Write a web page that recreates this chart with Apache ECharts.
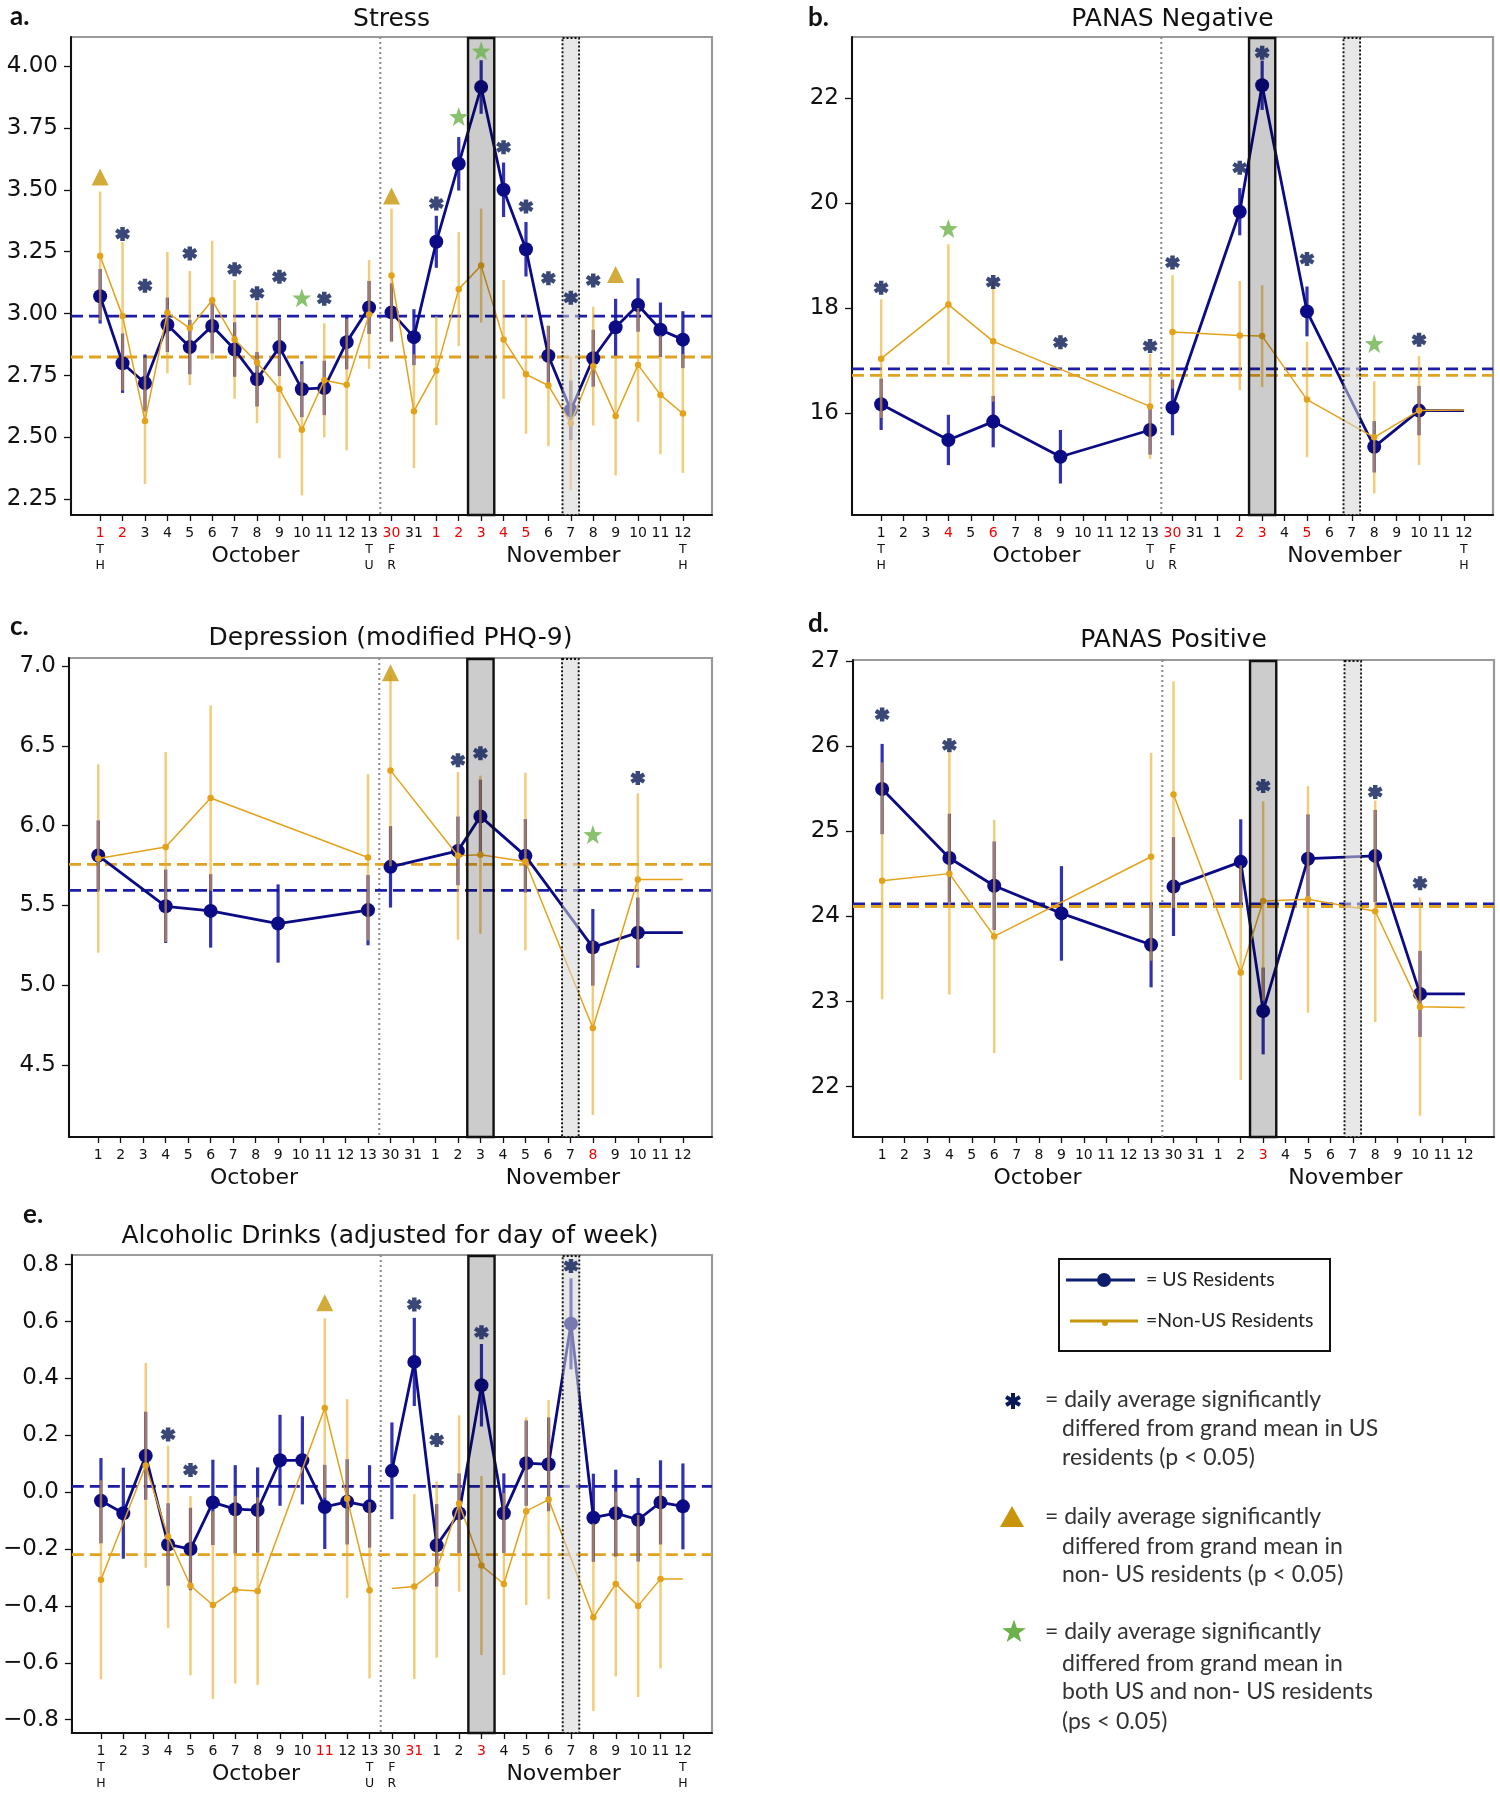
<!DOCTYPE html>
<html><head><meta charset="utf-8">
<script src="https://cdn.jsdelivr.net/npm/echarts@6/dist/echarts.min.js"></script>
<style>html,body{margin:0;padding:0;background:#fff}#c{width:1500px;height:1800px}</style>
</head><body><div id="c"></div>
<script>
const N = null;
// ---- categories ----
const dayLabels = ['1','2','3','4','5','6','7','8','9','10','11','12','13','30','31','1','2','3','4','5','6','7','8','9','10','11','12'];
const weekdayLabels = {0:['T','H'], 12:['T','U'], 13:['F','R'], 26:['T','H']};
const monthLabels = ['October','November'];

// ---- a. Stress ----
const stressUS    = [3.07,2.80,2.72,2.955,2.865,2.95,2.855,2.735,2.865,2.695,2.70,2.885,3.025,3.005,2.905,3.29,3.605,3.915,3.50,3.26,2.83,2.61,2.82,2.945,3.035,2.935,2.895];
const stressUSErr = [0.11,0.12,0.115,0.11,0.11,0.11,0.11,0.11,0.117,0.113,0.11,0.11,0.107,0.117,0.113,0.105,0.108,0.108,0.11,0.11,0.12,0.12,0.115,0.115,0.108,0.11,0.115];
const stressNon    = [3.233,2.99,2.567,3.004,2.942,3.054,2.896,2.803,2.696,2.531,2.731,2.713,2.997,3.154,2.606,2.77,3.099,3.194,2.896,2.755,2.71,2.557,2.788,2.587,2.793,2.672,2.597];
const stressNonErr = [0.26,0.30,0.255,0.245,0.23,0.24,0.24,0.245,0.28,0.265,0.23,0.265,0.22,0.27,0.23,0.22,0.23,0.23,0.24,0.24,0.245,0.27,0.24,0.24,0.23,0.24,0.24];
const stressMeans = [2.99, 2.825];
const stressAst  = [[1,3.322],[2,3.113],[4,3.243],[6,3.179],[7,3.082],[8,3.149],[10,3.06],[15,3.445],[18,3.672],[19,3.433],[20,3.143],[21,3.064],[22,3.134]];
const stressTri  = [[0,3.552],[13,3.475],[23,3.158]];
const stressStar = [[9,3.064],[16,3.796],[17,4.061]];
const stressRed  = [0,1,13,15,16,17,18,19];
const stressTicks = [2.25,2.50,2.75,3.00,3.25,3.50,3.75,4.00];

// ---- b. PANAS Negative ----
const negUS    = [16.17,N,N,15.49,N,15.84,N,N,15.17,N,N,N,15.68,16.11,N,N,19.84,22.25,N,17.94,N,N,15.36,N,16.05,N,16.05];
const negUSErr = [0.49,N,N,0.48,N,0.49,N,N,0.51,N,N,N,0.47,0.53,N,N,0.45,0.47,N,0.475,N,N,0.49,N,0.47,N,N];
const negNon    = [17.04,N,N,18.07,N,17.37,N,N,N,N,N,N,16.13,17.55,N,N,17.48,17.47,N,16.26,N,N,15.54,N,16.05,N,16.06];
const negNonErr = [1.13,N,N,1.15,N,1.15,N,N,N,N,N,N,1.0,1.08,N,N,1.04,0.97,N,1.1,N,N,1.07,N,1.04,N,N];
const negMeans = [16.845, 16.72];
const negAst  = [[0,18.39],[5,18.5],[8,17.35],[12,17.28],[13,18.87],[16,20.68],[17,22.87],[19,18.94],[24,17.4]];
const negTri  = [];
const negStar = [[3,19.52],[22,17.33]];
const negRed  = [3,5,13,16,17,19];
const negTicks = [16,18,20,22];

// ---- c. Depression ----
const depUS    = [5.813,N,N,5.495,N,5.466,N,N,5.387,N,N,N,5.471,5.742,N,N,5.842,6.058,N,5.811,N,N,5.238,N,5.33,N,5.33];
const depUSErr = [0.22,N,N,0.23,N,0.23,N,N,0.245,N,N,N,0.22,0.255,N,N,0.215,0.23,N,0.23,N,N,0.24,N,0.22,N,N];
const depNon    = [5.794,N,N,5.866,N,6.173,N,N,N,N,N,N,5.801,6.346,N,N,5.811,5.818,N,5.775,N,N,4.733,N,5.663,N,5.663];
const depNonErr = [0.59,N,N,0.595,N,0.58,N,N,N,N,N,N,0.52,0.6,N,N,0.525,0.495,N,0.557,N,N,0.545,N,0.54,N,N];
const depMeans = [5.595, 5.758];
const depAst  = [[16,6.41],[17,6.453],[24,6.298]];
const depTri  = [[13,6.957]];
const depStar = [[22,5.945]];
const depRed  = [22];
const depTicks = [4.5,5.0,5.5,6.0,6.5,7.0];

// ---- d. PANAS Positive ----
const posUS    = [25.495,N,N,24.686,N,24.36,N,N,24.035,N,N,N,23.667,24.35,N,N,24.64,22.89,N,24.677,N,N,24.71,N,23.09,N,23.09];
const posUSErr = [0.53,N,N,0.52,N,0.52,N,N,0.555,N,N,N,0.5,0.58,N,N,0.5,0.51,N,0.52,N,N,0.54,N,0.505,N,N];
const posNon    = [24.417,N,N,24.502,N,23.765,N,N,N,N,N,N,24.70,25.43,N,N,23.34,24.18,N,24.2,N,N,24.06,N,22.94,N,22.93];
const posNonErr = [1.39,N,N,1.42,N,1.37,N,N,N,N,N,N,1.22,1.33,N,N,1.26,1.17,N,1.33,N,N,1.3,N,1.28,N,N];
const posMeans = [24.147, 24.116];
const posAst  = [[0,26.37],[3,26.01],[17,25.53],[22,25.46],[24,24.39]];
const posTri  = [];
const posStar = [];
const posRed  = [17];
const posTicks = [22,23,24,25,26,27];

// ---- e. Alcoholic drinks ----
const alcUS    = [-0.03,-0.074,0.128,-0.184,-0.2,-0.036,-0.06,-0.063,0.112,0.112,-0.052,-0.034,-0.05,0.075,0.458,-0.187,-0.074,0.376,-0.074,0.102,0.098,0.592,-0.09,-0.074,-0.097,-0.036,-0.05];
const alcUSErr = [0.15,0.16,0.155,0.145,0.145,0.15,0.155,0.15,0.16,0.155,0.148,0.15,0.145,0.17,0.155,0.145,0.14,0.145,0.14,0.15,0.165,0.16,0.155,0.153,0.147,0.148,0.151];
const alcNon    = [-0.308,N,0.094,-0.157,-0.329,-0.397,-0.343,-0.348,N,N,0.296,-0.023,-0.345,-0.339,-0.332,-0.272,-0.04,-0.258,-0.323,-0.067,-0.026,N,-0.44,-0.323,-0.4,-0.305,-0.305];
const alcNonErr = [0.35,N,0.36,0.32,0.315,0.33,0.33,0.33,N,N,0.315,0.35,0.31,N,0.325,0.31,0.31,0.315,0.32,0.33,0.35,N,0.33,0.325,0.32,0.315,N];
const alcMeans = [0.02, -0.22];
const alcAst  = [[3,0.203],[4,0.078],[14,0.66],[15,0.183],[17,0.562],[21,0.795]];
const alcTri  = [[10,0.666]];
const alcStar = [];
const alcRed  = [10,14,17];
const alcTicks = [-0.8,-0.6,-0.4,-0.2,0,0.2,0.4,0.6,0.8];

// ---- styles ----
const C_US = '#0b0b85', C_US_ERR = 'rgba(22,22,165,0.88)', C_US_MEAN = '#1d1da6';
const C_NON = '#e3a21a', C_NON_ERR = 'rgba(234,172,40,0.62)', C_NON_MEAN = '#e1a222';
const C_AST = '#071a55', C_TRI = '#c8960a', C_STAR = '#6db14a';
const AST_PATH = 'path://M35 0L65 0L65 100L35 100Z M15 89.3L0 63.3L85 10.7L100 36.7Z M100 63.3L85 89.3L0 36.7L15 10.7Z';
const STAR_PATH = 'path://M50 0L61.76 33.82L97.55 34.55L69.02 56.18L79.39 90.45L50 70L20.61 90.45L30.98 56.18L2.45 34.55L38.24 33.82Z';
const XMIN = -1.3, XMAX = 27.3;
const stormIdx = 17, followIdx = 21;  // Nov 3 and Nov 7 highlighted days
const breakX = dayLabels.indexOf('30') - 0.5;
const monthPos = [6.93, 20.67];

const panels = [
  {letter:'a.', letterXY:[10,17], title:'Stress', titleY:19, grid:{left:71,top:37,width:641,height:478}, yMin:2.187, yMax:4.117, ticks:stressTicks, dec:2,
   us:stressUS, usErr:stressUSErr, non:stressNon, nonErr:stressNonErr, means:stressMeans, ast:stressAst, tri:stressTri, star:stressStar, red:stressRed, wk:true},
  {letter:'b.', letterXY:[808,18], title:'PANAS Negative', titleY:19, grid:{left:852,top:37,width:641,height:478}, yMin:14.06, yMax:23.17, ticks:negTicks, dec:0,
   us:negUS, usErr:negUSErr, non:negNon, nonErr:negNonErr, means:negMeans, ast:negAst, tri:negTri, star:negStar, red:negRed, wk:true},
  {letter:'c.', letterXY:[10,627], title:'Depression (modified PHQ-9)', titleY:638, grid:{left:69,top:658,width:643,height:479}, yMin:4.05, yMax:7.05, ticks:depTicks, dec:1,
   us:depUS, usErr:depUSErr, non:depNon, nonErr:depNonErr, means:depMeans, ast:depAst, tri:depTri, star:depStar, red:depRed, wk:false},
  {letter:'d.', letterXY:[808,624], title:'PANAS Positive', titleY:640, grid:{left:853,top:660,width:641,height:477}, yMin:21.41, yMax:27.01, ticks:posTicks, dec:0,
   us:posUS, usErr:posUSErr, non:posNon, nonErr:posNonErr, means:posMeans, ast:posAst, tri:posTri, star:posStar, red:posRed, wk:false},
  {letter:'e.', letterXY:[23,1215], title:'Alcoholic Drinks (adjusted for day of week)', titleY:1236, grid:{left:68,top:1255,width:644,height:478}, yMin:-0.847, yMax:0.834, ticks:alcTicks, dec:1,
   us:alcUS, usErr:alcUSErr, non:alcNon, nonErr:alcNonErr, means:alcMeans, ast:alcAst, tri:alcTri, star:alcStar, red:alcRed, wk:true}
];

const idxs = dayLabels.map((_, i) => i);
const segments = [[0, 12], [13, 26]];

function fmtY(v, dec) {
  const s = Math.abs(v).toFixed(dec);
  return (v < -1e-9 ? '\u2212' : '') + s;
}

const grids = [], xAxes = [], yAxes = [], series = [];
panels.forEach((p, i) => {
  grids.push(Object.assign({show:true, borderColor:'#9a9a9a', borderWidth:2.2, backgroundColor:'#fff'}, p.grid));
  xAxes.push({
    type:'value', gridIndex:i, min:XMIN, max:XMAX,
    axisLine:{show:true, onZero:false, lineStyle:{color:'#111', width:2}},
    axisTick:{show:true, customValues:idxs, length:6, lineStyle:{color:'#111', width:1.3}},
    splitLine:{show:false},
    axisLabel:{
      customValues:idxs, margin:10,
      formatter:(v) => {
        const k = Math.round(v);
        let s = '{' + (p.red.includes(k) ? 'r' : 'n') + '|' + dayLabels[k] + '}';
        if (p.wk && weekdayLabels[k]) s += '\n{s|' + weekdayLabels[k][0] + '}\n{s|' + weekdayLabels[k][1] + '}';
        return s;
      },
      rich:{
        n:{fontSize:14, fontFamily:'DejaVu Sans', color:'#111', lineHeight:17},
        r:{fontSize:14, fontFamily:'DejaVu Sans', color:'#ee0000', lineHeight:17},
        s:{fontSize:12.5, fontFamily:'DejaVu Sans', color:'#111', lineHeight:15.5}
      }
    }
  });
  yAxes.push({
    type:'value', gridIndex:i, min:p.yMin, max:p.yMax,
    axisLine:{show:true, onZero:false, lineStyle:{color:'#111', width:2}},
    axisTick:{show:true, customValues:p.ticks, length:7, lineStyle:{color:'#111', width:1.3}},
    splitLine:{show:false},
    axisLabel:{customValues:p.ticks, margin:13, fontSize:23, fontFamily:'DejaVu Sans', color:'#111', formatter:(v) => fmtY(v, p.dec)}
  });

  // vertical dotted separator
  series.push({
    type:'custom', xAxisIndex:i, yAxisIndex:i, z:2, silent:true, encode:{x:0, y:1},
    data:[[breakX, p.yMin]],
    renderItem:(params, api) => {
      const cs = params.coordSys;
      const x = api.coord([api.value(0), p.yMin])[0];
      return {type:'line', shape:{x1:x, y1:cs.y, x2:x, y2:cs.y + cs.height}, style:{stroke:'#8a8a8a', lineWidth:2, lineDash:[2,3]}};
    }
  });
  // grand mean dashed lines
  series.push({
    type:'custom', xAxisIndex:i, yAxisIndex:i, z:2, silent:true, encode:{x:0, y:1},
    data:[[0, p.means[0], 0], [0, p.means[1], 1]],
    renderItem:(params, api) => {
      const cs = params.coordSys;
      const y = api.coord([0, api.value(1)])[1];
      const col = api.value(2) === 0 ? C_US_MEAN : C_NON_MEAN;
      return {type:'line', shape:{x1:cs.x, y1:y, x2:cs.x + cs.width, y2:y}, style:{stroke:col, lineWidth:2.8, lineDash:[12,6]}};
    }
  });

  function errSeries(vals, errs, color, width, z) {
    const data = [];
    vals.forEach((v, k) => { if (v != null && errs[k] != null) data.push([k, v - errs[k], v + errs[k]]); });
    return {
      type:'custom', xAxisIndex:i, yAxisIndex:i, z:z, silent:true, encode:{x:0, y:[1,2]}, data:data,
      renderItem:(params, api) => {
        const a = api.coord([api.value(0), api.value(1)]);
        const b = api.coord([api.value(0), api.value(2)]);
        return {type:'line', shape:{x1:a[0], y1:a[1], x2:b[0], y2:b[1]}, style:{stroke:color, lineWidth:width}};
      }
    };
  }
  function lineSeries(vals, errs, color, lw, size, z) {
    return segments.map(([s, e]) => {
      const data = [];
      for (let k = s; k <= e; k++) {
        if (vals[k] == null) continue;
        data.push(errs[k] == null ? {value:[k, vals[k]], symbol:'none'} : {value:[k, vals[k]]});
      }
      return {
        type:'line', xAxisIndex:i, yAxisIndex:i, z:z, silent:true, data:data,
        symbol:'circle', symbolSize:size, showSymbol:true, showAllSymbol:true,
        lineStyle:{color:color, width:lw}, itemStyle:{color:color}
      };
    });
  }
  series.push(errSeries(p.us, p.usErr, C_US_ERR, 3.2, 3));
  lineSeries(p.us, p.usErr, C_US, 2.8, 14, 4).forEach(s => series.push(s));
  series.push(errSeries(p.non, p.nonErr, C_NON_ERR, 2.5, 5));
  lineSeries(p.non, p.nonErr, C_NON, 1.5, 6.5, 6).forEach(s => series.push(s));

  // highlighted day boxes
  series.push({
    type:'custom', xAxisIndex:i, yAxisIndex:i, z:7, silent:true, encode:{x:0, y:1},
    data:[[stormIdx, p.yMin, 0.585, 0], [followIdx, p.yMin, 0.37, 1]],
    renderItem:(params, api) => {
      const cs = params.coordSys;
      const c = api.value(0), hw = api.value(2), kind = api.value(3);
      const x0 = api.coord([c - hw, p.yMin])[0], x1 = api.coord([c + hw, p.yMin])[0];
      const style = kind === 0
        ? {fill:'rgba(0,0,0,0.2)', stroke:'#111', lineWidth:2.4}
        : {fill:'rgba(214,214,214,0.55)', stroke:'#111', lineWidth:1.9, lineDash:[2,2]};
      return {type:'rect', shape:{x:x0, y:cs.y + 1, width:x1 - x0, height:cs.height - 1}, style:style};
    }
  });

  // significance markers
  series.push({type:'scatter', xAxisIndex:i, yAxisIndex:i, z:8, silent:true, data:p.ast, symbol:AST_PATH, symbolSize:[15,14], itemStyle:{color:C_AST}});
  series.push({type:'scatter', xAxisIndex:i, yAxisIndex:i, z:8, silent:true, data:p.tri, symbol:'triangle', symbolSize:[17,17], itemStyle:{color:C_TRI}});
  series.push({type:'scatter', xAxisIndex:i, yAxisIndex:i, z:8, silent:true, data:p.star, symbol:STAR_PATH, symbolSize:[19,19], itemStyle:{color:C_STAR}});
});

function txt(x, y, text, font, fill, align) {
  return {type:'text', x:x, y:y, silent:true, z:100,
    style:{text:text, font:font, fill:fill || '#111', align:align || 'left', verticalAlign:'middle', textAlign:align || 'left', textVerticalAlign:'middle'}};
}

const graphics = [];
panels.forEach(p => {
  graphics.push(txt(p.letterXY[0], p.letterXY[1], p.letter, 'bold 26px Lato', '#111', 'left'));
  graphics.push(txt(p.grid.left + p.grid.width / 2, p.titleY, p.title, '25px "DejaVu Sans"', '#111', 'center'));
});

// legend
graphics.push({type:'rect', silent:true, shape:{x:1059, y:1259, width:271, height:92}, style:{fill:'#fff', stroke:'#111', lineWidth:2}});
graphics.push({type:'line', silent:true, shape:{x1:1066, y1:1280, x2:1135, y2:1280}, style:{stroke:'#0c1f6e', lineWidth:3}});
graphics.push({type:'circle', silent:true, shape:{cx:1104, cy:1280, r:7}, style:{fill:'#0c1f6e'}});
graphics.push(txt(1146, 1280, '= US Residents', '19.5px Lato', '#222'));
graphics.push({type:'line', silent:true, shape:{x1:1070, y1:1321, x2:1138, y2:1321}, style:{stroke:C_TRI, lineWidth:3}});
graphics.push({type:'circle', silent:true, shape:{cx:1105, cy:1323, r:3}, style:{fill:C_TRI}});
graphics.push(txt(1146, 1321, '=Non-US Residents', '19.5px Lato', '#222'));

// legend asterisk (three bars)
[90, 30, 150].forEach(a => {
  const r = a * Math.PI / 180, L = 8;
  graphics.push({type:'line', silent:true, shape:{x1:1013 - L * Math.cos(r), y1:1401 - L * Math.sin(r), x2:1013 + L * Math.cos(r), y2:1401 + L * Math.sin(r)}, style:{stroke:C_AST, lineWidth:4}});
});
graphics.push({type:'polygon', silent:true, shape:{points:[[1000,1527],[1024,1527],[1012,1506]]}, style:{fill:C_TRI}});
const starPts = [];
for (let k = 0; k < 10; k++) {
  const ang = (-90 + k * 36) * Math.PI / 180, rad = k % 2 === 0 ? 12.5 : 5;
  starPts.push([1014 + rad * Math.cos(ang), 1632 + rad * Math.sin(ang)]);
}
graphics.push({type:'polygon', silent:true, shape:{points:starPts}, style:{fill:C_STAR}});
const LF = '23px Lato', LC = '#333';
[
  [1045,1400,'= daily average significantly'],[1062,1429,'differed from grand mean in US'],[1062,1458,'residents (p < 0.05)'],
  [1045,1517,'= daily average significantly'],[1062,1547,'differed from grand mean in'],[1062,1575,'non- US residents (p < 0.05)'],
  [1045,1632,'= daily average significantly'],[1062,1664,'differed from grand mean in'],[1062,1692,'both US and non- US residents'],[1062,1722,'(ps < 0.05)']
].forEach(t => graphics.push(txt(t[0], t[1], t[2], LF, LC)));

const chart = echarts.init(document.getElementById('c'), null, {renderer:'canvas', width:1500, height:1800});
chart.setOption({animation:false, backgroundColor:'#fff', grid:grids, xAxis:xAxes, yAxis:yAxes, series:series, graphic:graphics});

// month labels positioned through the axes
const monthG = [];
panels.forEach((p, i) => {
  monthPos.forEach((mx, m) => {
    const px = chart.convertToPixel({xAxisIndex:i}, mx);
    monthG.push(txt(px, p.grid.top + p.grid.height + 41, monthLabels[m], '22px "DejaVu Sans"', '#111', 'center'));
  });
});
chart.setOption({graphic:graphics.concat(monthG)});
</script></body></html>
